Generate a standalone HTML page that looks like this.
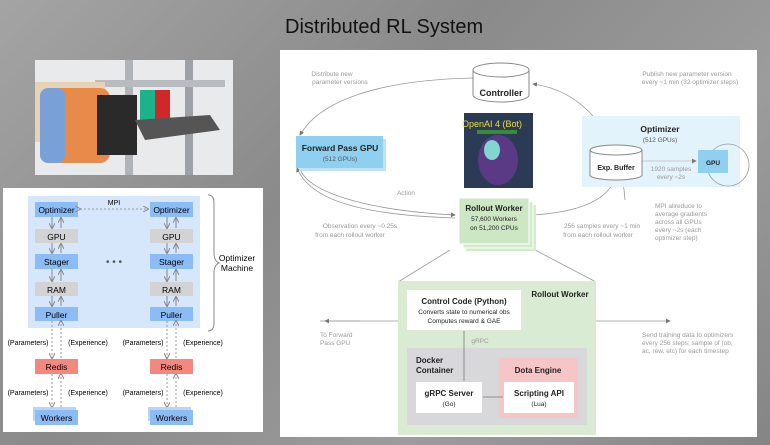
<!DOCTYPE html>
<html><head><meta charset="utf-8"><style>
body{margin:0;width:770px;height:445px;overflow:hidden;background:linear-gradient(135deg,#a4a4a4,#8a8a8a 40%,#9c9c9c 70%,#858585);font-family:"Liberation Sans",sans-serif;position:relative}
</style></head><body>
<div style="position:absolute;left:285px;top:16px;font-size:20px;color:#111">Distributed RL System</div>
<!-- photo -->
<svg style="position:absolute;left:35px;top:60px" width="198" height="115">
<rect width="198" height="115" fill="#e9eaec"/>
<rect x="90" y="0" width="8" height="115" fill="#b0b3b8"/><rect x="150" y="0" width="8" height="115" fill="#9ea2a8"/>
<rect x="60" y="20" width="130" height="7" fill="#b8bbc0"/>
<rect x="0" y="22" width="70" height="60" fill="#e6d3b5"/>
<rect x="5" y="28" width="70" height="75" rx="10" fill="#e88a4a"/>
<rect x="5" y="28" width="25" height="75" rx="8" fill="#7aa0d8"/>
<rect x="62" y="35" width="40" height="60" fill="#2a2a2a"/>
<rect x="105" y="30" width="30" height="30" fill="#1db38a"/><rect x="120" y="30" width="15" height="30" fill="#d02828"/>
<polygon points="100,60 175,55 185,70 110,80" fill="#555"/>
</svg>
<!-- left panel -->
<div style="position:absolute;left:3px;top:188px;width:260px;height:244px;background:#fff"></div>
<svg style="position:absolute;left:0;top:185px" width="270" height="260" font-family="Liberation Sans" font-size="8.5" text-anchor="middle">
<defs><marker id="a" markerWidth="6" markerHeight="6" refX="5" refY="3" orient="auto"><path d="M0,0L6,3L0,6" fill="none" stroke="#888"/></marker></defs>
<rect x="28" y="11" width="172" height="132" fill="#d6e7fb"/>
<g id="col">
<rect x="35" y="17" width="43" height="15" fill="#8cbcf6"/><text x="56.5" y="28">Optimizer</text>
<rect x="35" y="44" width="43" height="14" fill="#d3d3d3"/><text x="56.5" y="55">GPU</text>
<rect x="35" y="69" width="43" height="15" fill="#8cbcf6"/><text x="56.5" y="80">Stager</text>
<rect x="35" y="97" width="43" height="14" fill="#d3d3d3"/><text x="56.5" y="108">RAM</text>
<rect x="35" y="122" width="43" height="14" fill="#8cbcf6"/><text x="56.5" y="133">Puller</text>
<g stroke="#888" stroke-width="1" marker-end="url(#a)"><line x1="52" y1="32" x2="52" y2="43"/><line x1="61" y1="43" x2="61" y2="33"/><line x1="52" y1="58" x2="52" y2="68"/><line x1="61" y1="68" x2="61" y2="59"/><line x1="52" y1="84" x2="52" y2="96"/><line x1="61" y1="96" x2="61" y2="85"/><line x1="52" y1="111" x2="52" y2="121"/><line x1="61" y1="121" x2="61" y2="112"/></g>
<g stroke="#999" stroke-dasharray="2,2" marker-end="url(#a)"><line x1="52" y1="136" x2="52" y2="173"/><line x1="61" y1="173" x2="61" y2="136"/><line x1="52" y1="189" x2="52" y2="222"/><line x1="61" y1="222" x2="61" y2="189"/></g>
<rect x="35" y="174" width="43" height="15" fill="#f4877e"/><text x="56.5" y="185">Redis</text>
<rect x="33" y="222" width="43" height="14" fill="#b9d4f7"/><rect x="35" y="225" width="43" height="15" fill="#8cbcf6"/><text x="56.5" y="236">Workers</text>
<text x="28" y="160" font-size="7">(Parameters)</text><text x="88" y="160" font-size="7">(Experience)</text>
<text x="28" y="210" font-size="7">(Parameters)</text><text x="88" y="210" font-size="7">(Experience)</text>
</g>
<use href="#col" x="115"/>
<line x1="80" y1="24" x2="148" y2="24" stroke="#999" stroke-dasharray="2,2" marker-end="url(#a)" marker-start="url(#a)"/>
<text x="114" y="20" font-size="7">MPI</text>
<text x="114" y="80" font-size="10" fill="#555">• • •</text>
<path d="M208,10 q6,0 6,8 v50 q0,8 5,10 q-5,2 -5,10 v50 q0,8 -6,8" fill="none" stroke="#888"/>
<text x="237" y="76" font-size="8.5">Optimizer</text><text x="237" y="86" font-size="8.5">Machine</text>
</svg>
<!-- right panel -->
<div style="position:absolute;left:280px;top:50px;width:477px;height:387px;background:#fff"></div>
<svg style="position:absolute;left:280px;top:50px" width="490" height="395" font-family="Liberation Sans" text-anchor="middle" fill="#222">
<defs><marker id="b" markerWidth="6" markerHeight="6" refX="5" refY="3" orient="auto"><path d="M0,0L6,3L0,6z" fill="#777"/></marker></defs>
<g fill="none" stroke="#999" stroke-width="0.8">
<path d="M193,28 C100,30 40,50 20,85" marker-end="url(#b)"/>
<path d="M345,150 C340,80 300,40 253,34" marker-end="url(#b)"/>
<path d="M20,118 C25,140 80,160 175,165" marker-end="url(#b)"/>
<path d="M175,168 C80,165 30,150 17,118" marker-end="url(#b)"/>
<path d="M253,165 C300,162 328,150 335,128" marker-end="url(#b)"/>
<line x1="170" y1="200" x2="118" y2="232"/><line x1="255" y1="200" x2="316" y2="232"/>
<line x1="40" y1="271" x2="126" y2="271" marker-end="url(#b)"/><line x1="80" y1="271" x2="45" y2="271" marker-end="url(#b)"/>
<line x1="241" y1="271" x2="390" y2="271" marker-end="url(#b)"/>
</g>
<path d="M193,20 v25 a28,7 0 0 0 56,0 v-25" fill="#fff" stroke="#888"/><ellipse cx="221" cy="20" rx="28" ry="7" fill="#fff" stroke="#888"/>
<text x="221" y="46" font-size="9" font-weight="bold">Controller</text>
<text x="52" y="26" font-size="6.5" fill="#999">Distribute new</text><text x="60" y="34" font-size="6.5" fill="#999">parameter versions</text>
<text x="407" y="26" font-size="6.5" fill="#999">Publish new parameter version</text><text x="410" y="34" font-size="6.5" fill="#999">every ~1 min (32 optimizer steps)</text>
<rect x="19" y="89" width="87" height="32" fill="#bfe3f5"/><rect x="16" y="86" width="87" height="32" fill="#8fd0f0"/>
<text x="60" y="101" font-size="8.5" font-weight="bold">Forward Pass GPU</text><text x="60" y="111" font-size="6.5" fill="#555">(512 GPUs)</text>
<rect x="184" y="63" width="69" height="75" fill="#2b3b55"/><ellipse cx="218" cy="110" rx="20" ry="25" fill="#5a3a85"/><ellipse cx="212" cy="100" rx="8" ry="10" fill="#7fd7d0"/>
<text x="212" y="77" font-size="9" fill="#e8e030">OpenAI 4 (Bot)</text><rect x="197" y="80" width="40" height="4" fill="#3a8a3a"/>
<rect x="302" y="66" width="158" height="71" fill="#e3f3fc"/>
<text x="380" y="82" font-size="8.5" font-weight="bold">Optimizer</text><text x="380" y="92" font-size="6.5" fill="#555">(512 GPUs)</text>
<line x1="362" y1="111" x2="416" y2="111" stroke="#bbb" stroke-width="0.8" marker-end="url(#b)"/>
<circle cx="448" cy="115" r="21" fill="none" stroke="#999" stroke-width="0.8"/>
<path d="M310,100 v25 a26,5 0 0 0 52,0 v-25" fill="#fff" stroke="#888"/><ellipse cx="336" cy="100" rx="26" ry="5" fill="#fff" stroke="#888"/>
<text x="336" y="120" font-size="7" font-weight="bold">Exp. Buffer</text>
<text x="391" y="121" font-size="6.5" fill="#999">1920 samples</text><text x="391" y="129" font-size="6.5" fill="#999">every ~2s</text>
<rect x="418" y="100" width="30" height="23" fill="#8fd0f0"/><text x="433" y="115" font-size="6.5" font-weight="bold">GPU</text>
<text x="375" y="158" font-size="6.5" fill="#999" text-anchor="start">MPI allreduce to</text>
<text x="375" y="166" font-size="6.5" fill="#999" text-anchor="start">average gradients</text>
<text x="375" y="174" font-size="6.5" fill="#999" text-anchor="start">across all GPUs</text>
<text x="375" y="182" font-size="6.5" fill="#999" text-anchor="start">every ~2s (each</text>
<text x="375" y="190" font-size="6.5" fill="#999" text-anchor="start">optimizer step)</text>
<rect x="186" y="155" width="70" height="46" fill="#d3eacb"/><rect x="183" y="152" width="70" height="46" fill="#d3eacb" stroke="#fff"/><rect x="179" y="148" width="70" height="46" fill="#cde6c4" stroke="#fff"/>
<text x="214" y="161" font-size="8" font-weight="bold">Rollout Worker</text><text x="214" y="171" font-size="6.5">57,600 Workers</text><text x="214" y="180" font-size="6.5">on 51,200 CPUs</text>
<text x="126" y="145" font-size="6.5" fill="#999">Action</text>
<text x="80" y="178" font-size="6.5" fill="#999">Observation every ~0.25s</text><text x="70" y="187" font-size="6.5" fill="#999">from each rollout worker</text>
<text x="322" y="178" font-size="6.5" fill="#999">256 samples every ~1 min</text><text x="318" y="187" font-size="6.5" fill="#999">from each rollout worker</text>
<rect x="118" y="231" width="198" height="154" fill="#d9ecd3"/>
<text x="280" y="247" font-size="8" font-weight="bold">Rollout Worker</text>
<rect x="127" y="240" width="114" height="40" fill="#fff"/>
<text x="184" y="254" font-size="8" font-weight="bold">Control Code (Python)</text><text x="184" y="264" font-size="6.5">Converts state to numerical obs</text><text x="184" y="273" font-size="6.5">Computes reward &amp; GAE</text>
<rect x="127" y="298" width="180" height="77" fill="#d8d8da"/>
<text x="136" y="313" font-size="8" font-weight="bold" text-anchor="start">Docker</text><text x="136" y="323" font-size="8" font-weight="bold" text-anchor="start">Container</text>
<rect x="219" y="308" width="79" height="60" fill="#f6c6c6"/><text x="258" y="323" font-size="8" font-weight="bold">Dota Engine</text>
<rect x="136" y="332" width="66" height="31" fill="#fff"/><text x="169" y="346" font-size="8" font-weight="bold">gRPC Server</text><text x="169" y="356" font-size="6.5">(Go)</text>
<rect x="224" y="332" width="70" height="31" fill="#fff"/><text x="259" y="346" font-size="8" font-weight="bold">Scripting API</text><text x="259" y="356" font-size="6.5">(Lua)</text>
<g stroke="#777" stroke-width="0.8"><line x1="184" y1="281" x2="184" y2="331"/><line x1="203" y1="347" x2="223" y2="347"/></g>
<text x="200" y="293" font-size="6.5" fill="#999">gRPC</text>
<text x="40" y="287" font-size="6.5" fill="#999" text-anchor="start">To Forward</text><text x="40" y="295" font-size="6.5" fill="#999" text-anchor="start">Pass GPU</text>
<text x="362" y="287" font-size="6.5" fill="#999" text-anchor="start">Send training data to optimizers</text>
<text x="362" y="295" font-size="6.5" fill="#999" text-anchor="start">every 256 steps; sample of (ob,</text>
<text x="362" y="303" font-size="6.5" fill="#999" text-anchor="start">ac, rew, etc) for each timestep</text>
</svg>
</body></html>
